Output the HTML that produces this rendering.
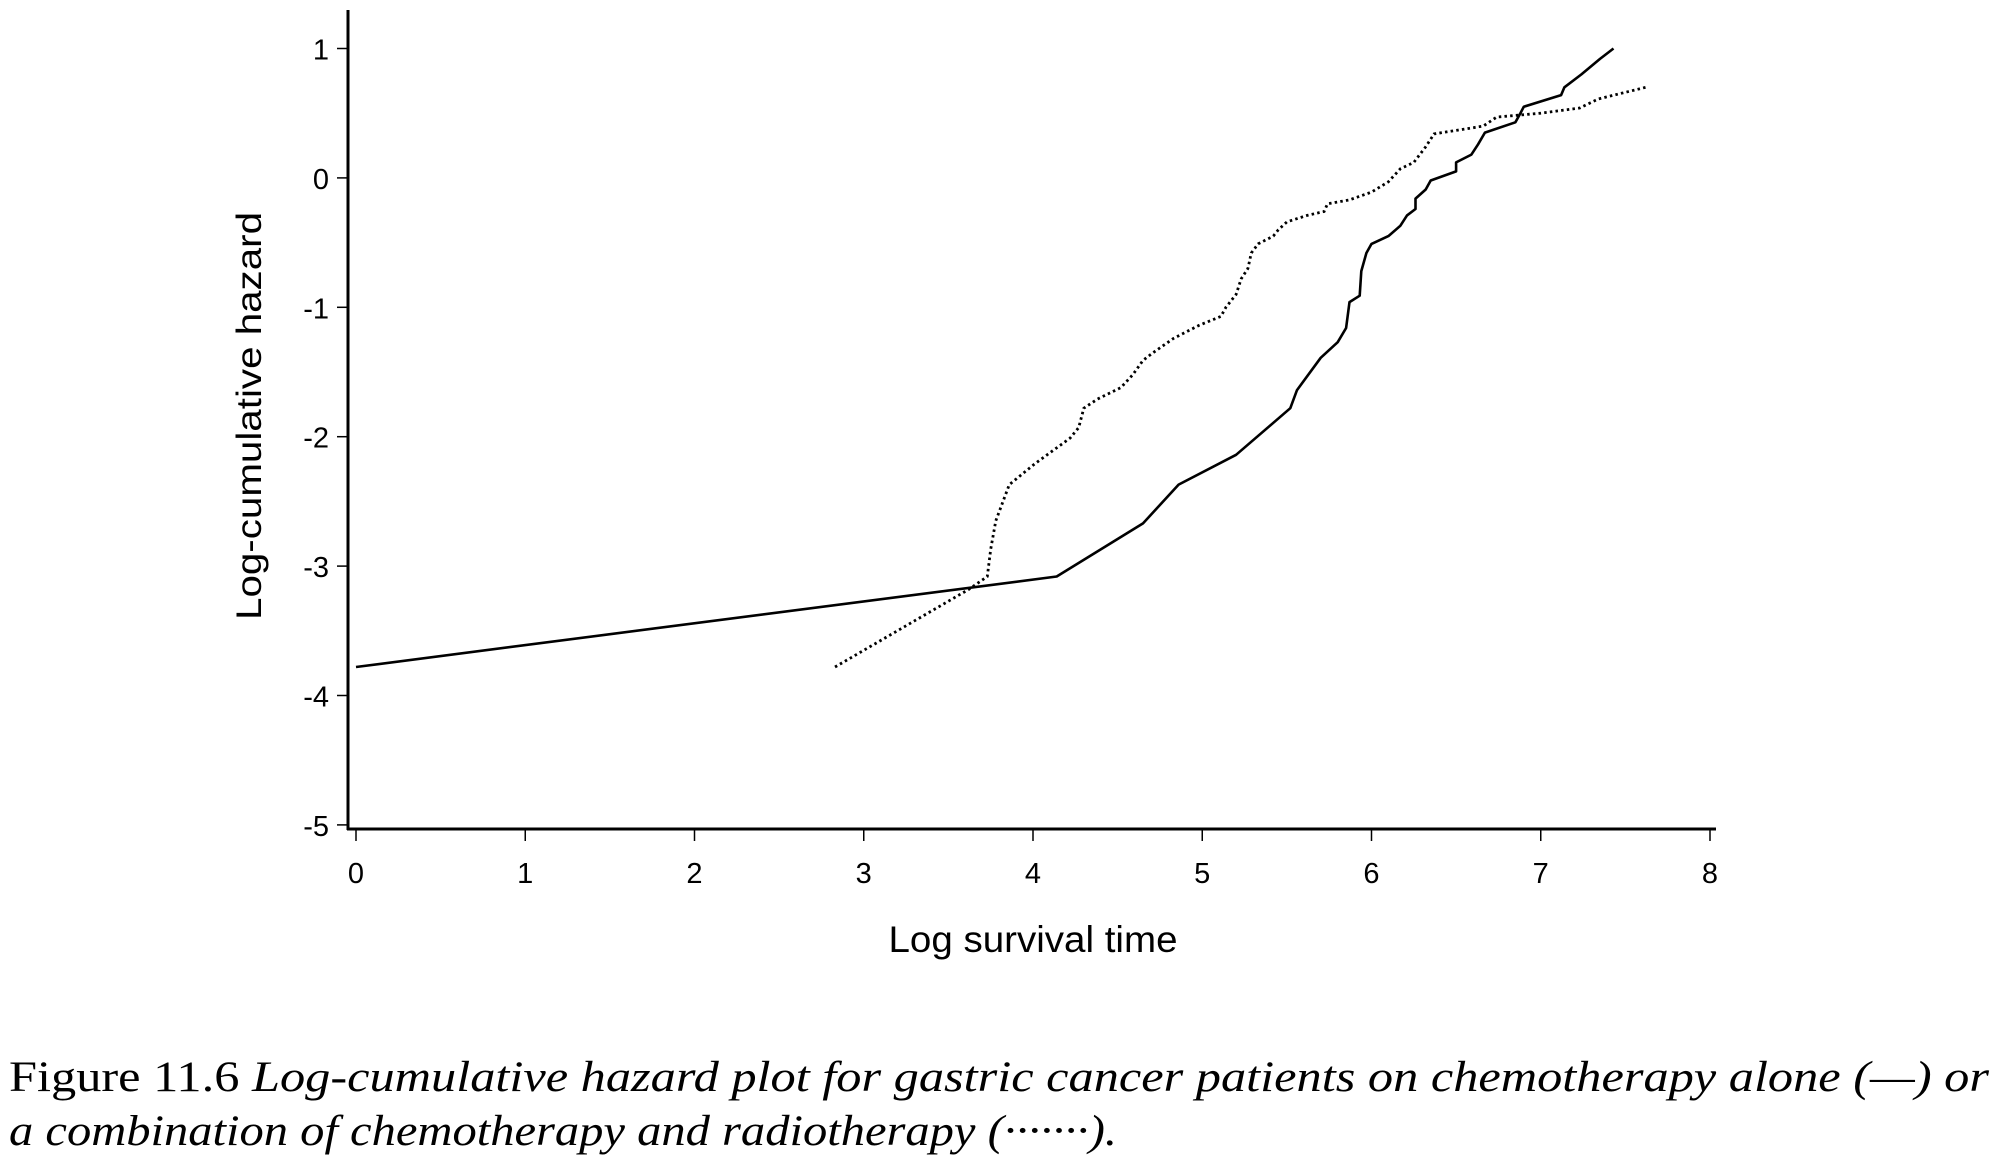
<!DOCTYPE html>
<html><head><meta charset="utf-8"><style>
html,body{margin:0;padding:0;background:#fff;}
svg{display:block;}
.cap{font-family:"Liberation Serif","DejaVu Serif",serif;}
</style></head><body>
<svg id="chart" width="1999" height="1163" viewBox="0 0 1999 1163" xmlns="http://www.w3.org/2000/svg">
<g id="axes"></g>
<g id="series"></g>
<text x="1033" y="952" text-anchor="middle" font-family="Liberation Sans, sans-serif" font-size="37" textLength="289" lengthAdjust="spacingAndGlyphs">Log survival time</text>
<text transform="translate(261,416) rotate(-90)" text-anchor="middle" font-family="Liberation Sans, sans-serif" font-size="35" textLength="408" lengthAdjust="spacingAndGlyphs">Log-cumulative hazard</text>
<text class="cap" x="9" y="1091" font-size="43" textLength="1980" lengthAdjust="spacingAndGlyphs">Figure 11.6 <tspan font-style="italic">Log-cumulative hazard plot for gastric cancer patients on chemotherapy alone (—) or</tspan></text>
<text class="cap" x="9" y="1145" font-size="43" font-style="italic" textLength="1108" lengthAdjust="spacingAndGlyphs">a combination of chemotherapy and radiotherapy (·······).</text>
</svg>
<script>
const xTicks = [0,1,2,3,4,5,6,7,8];
const yTicks = [1,0,-1,-2,-3,-4,-5];
const chemoX = [0,4.14,4.65,4.86,5.20,5.52,5.56,5.70,5.80,5.85,5.87,5.93,5.94,5.97,6.00,6.10,6.17,6.21,6.26,6.26,6.32,6.35,6.50,6.50,6.59,6.63,6.67,6.85,6.88,6.90,7.12,7.14,7.24,7.35,7.43];
const chemoY = [-3.78,-3.08,-2.67,-2.37,-2.14,-1.78,-1.64,-1.39,-1.27,-1.16,-0.96,-0.91,-0.72,-0.58,-0.51,-0.45,-0.37,-0.29,-0.24,-0.16,-0.09,-0.02,0.05,0.12,0.18,0.26,0.35,0.43,0.50,0.55,0.64,0.70,0.80,0.92,1.00];
const comboX = [2.83,3.62,3.73,3.75,3.78,3.86,4.01,4.22,4.27,4.30,4.38,4.52,4.59,4.65,4.71,4.83,4.98,5.11,5.14,5.20,5.23,5.27,5.29,5.33,5.42,5.45,5.50,5.62,5.72,5.74,5.87,6.00,6.10,6.17,6.25,6.32,6.37,6.66,6.74,7.00,7.23,7.34,7.62];
const comboY = [-3.78,-3.18,-3.08,-2.87,-2.65,-2.37,-2.21,-2.01,-1.93,-1.78,-1.71,-1.62,-1.52,-1.41,-1.35,-1.24,-1.14,-1.07,-1.00,-0.90,-0.78,-0.70,-0.58,-0.51,-0.45,-0.40,-0.34,-0.29,-0.26,-0.20,-0.17,-0.11,-0.03,0.07,0.12,0.24,0.34,0.40,0.47,0.50,0.54,0.61,0.70];

const NS='http://www.w3.org/2000/svg';
function sx(v){return 356 + v*169.25;}
function sy(v){return 48.5 + (1-v)*129.4;}
function mk(tag,attrs,parent){const e=document.createElementNS(NS,tag);for(const k in attrs)e.setAttribute(k,attrs[k]);parent.appendChild(e);return e;}
const axes=document.getElementById('axes');
const series=document.getElementById('series');

let yl=mk('line',{x1:348,y1:10,x2:348,y2:830,stroke:'#000','stroke-width':3},axes);


let xl=mk('line',{x1:347,y1:829,x2:1716,y2:829,stroke:'#000','stroke-width':3},axes);



xTicks.forEach(t=>{
  let tk=mk('line',{x1:sx(t),y1:830,x2:sx(t),y2:841,stroke:'#000','stroke-width':1.5},axes);
  
  
  let lb=mk('text',{x:sx(t),y:883,'text-anchor':'middle','font-family':'Liberation Sans, sans-serif','font-size':29},axes);
  
  
  lb.textContent=t;
});
yTicks.forEach(t=>{
  let tk=mk('line',{x1:337,y1:sy(t),x2:348,y2:sy(t),stroke:'#000','stroke-width':1.5},axes);
  
  
  let lb=mk('text',{x:329,y:sy(t)+11,'text-anchor':'end','font-family':'Liberation Sans, sans-serif','font-size':29},axes);
  
  
  lb.textContent=t;
});
function pts(X,Y){return X.map((x,i)=>sx(x).toFixed(1)+','+sy(Y[i]).toFixed(1)).join(' ');}
let s1=mk('polyline',{points:pts(chemoX,chemoY),fill:'none',stroke:'#000','stroke-width':2.6,'stroke-linejoin':'round'},series);


let s2=mk('polyline',{points:pts(comboX,comboY),fill:'none',stroke:'#000','stroke-width':2.8,'stroke-dasharray':'2.5 3.2'},series);


</script>
</body></html>
